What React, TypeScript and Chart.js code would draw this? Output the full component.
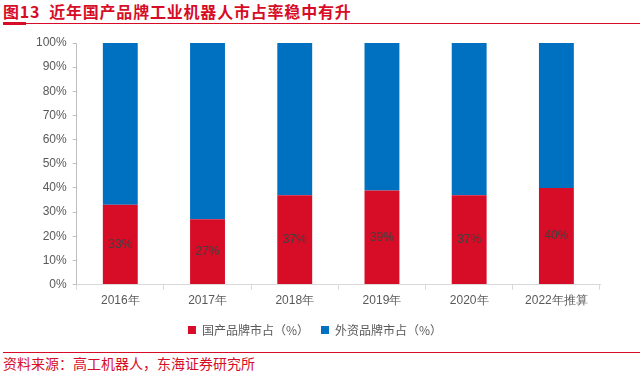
import React, { useEffect, useRef } from "react";
import { Chart, registerables } from "chart.js";
Chart.register(...registerables);

const categories = ["2016年", "2017年", "2018年", "2019年", "2020年", "2022年推算"];
const domesticShare = [33, 27, 37, 39, 37, 40];
const foreignShare = [67, 73, 63, 61, 63, 60];
const yTicks = [0, 10, 20, 30, 40, 50, 60, 70, 80, 90, 100];
const seriesNames = ["国产品牌市占（%）", "外资品牌市占（%）"];

const RED = "#D70C26";
const BLUE = "#0070C0";
const NARROW = "'Liberation Sans Narrow', 'Arial Narrow', 'Liberation Sans', sans-serif";

const labelPlugin = {
  id: "barLabels",
  afterDatasetsDraw(chart: any) {
    const ctx = chart.ctx;
    const meta = chart.getDatasetMeta(0);
    ctx.save();
    ctx.font = `12px ${NARROW}`;
    ctx.fillStyle = "#404040";
    ctx.textAlign = "center";
    ctx.textBaseline = "middle";
    meta.data.forEach((bar: any, i: number) => {
      const y = (bar.y + bar.base) / 2;
      ctx.fillText(domesticShare[i] + "%", bar.x, y);
    });
    ctx.restore();
  },
};

export default function App() {
  const ref = useRef<HTMLCanvasElement>(null);
  useEffect(() => {
    const chart = new Chart(ref.current!, {
      type: "bar",
      data: {
        labels: categories,
        datasets: [
          {
            label: seriesNames[0],
            data: domesticShare,
            backgroundColor: RED,
            borderWidth: 0,
            barPercentage: 0.4,
            categoryPercentage: 1,
          },
          {
            label: seriesNames[1],
            data: foreignShare,
            backgroundColor: BLUE,
            borderWidth: 0,
            barPercentage: 0.4,
            categoryPercentage: 1,
          },
        ],
      },
      options: {
        animation: false,
        responsive: false,
        maintainAspectRatio: false,
        layout: { padding: { left: 30, right: 44, top: 43, bottom: 4 } },
        plugins: {
          tooltip: { enabled: false },
          legend: {
            position: "bottom",
            labels: {
              boxWidth: 8,
              boxHeight: 8,
              padding: 12,
              color: "#595959",
              font: { size: 12, family: "'Noto Sans CJK SC', sans-serif" },
            },
          },
        },
        scales: {
          x: {
            stacked: true,
            grid: {
              display: true,
              offset: true,
              drawOnChartArea: false,
              drawTicks: true,
              tickLength: 5,
              color: "#D9D9D9",
            },
            border: { color: "#D9D9D9" },
            ticks: {
              color: "#595959",
              font: { size: 12, family: NARROW },
              padding: 4,
            },
          },
          y: {
            stacked: true,
            min: 0,
            max: 100,
            afterBuildTicks(axis: any) {
              axis.ticks = yTicks.map((v) => ({ value: v }));
            },
            grid: {
              display: true,
              drawOnChartArea: false,
              drawTicks: true,
              tickLength: 4,
              color: "#BFBFBF",
            },
            border: { color: "#BFBFBF" },
            ticks: {
              color: "#595959",
              font: { size: 12, family: NARROW },
              padding: 6,
              callback: (v: any) => v + "%",
            },
          },
        },
      },
      plugins: [labelPlugin],
    });
    return () => chart.destroy();
  }, []);

  return (
    <div style={{ position: "fixed", left: 0, top: 0, width: 644, height: 374, background: "#fff", overflow: "hidden" }}>
      <div
        style={{
          position: "absolute",
          left: 3,
          top: 1,
          fontFamily: "'Noto Sans CJK SC', sans-serif",
          fontWeight: 700,
          fontSize: 16,
          letterSpacing: 0.8,
          color: RED,
          whiteSpace: "nowrap",
          lineHeight: "20px",
        }}
      >
        图13&nbsp;&nbsp;近年国产品牌工业机器人市占率稳中有升
      </div>
      <div style={{ position: "absolute", left: 3, top: 23, width: 637, height: 1, background: RED }} />
      <div style={{ position: "absolute", left: 3, top: 22, width: 23, height: 3, background: RED }} />
      <canvas ref={ref} width={644} height={350} style={{ position: "absolute", left: 0, top: 0 }} />
      <div style={{ position: "absolute", left: 3, top: 352, width: 637, height: 1, background: RED }} />
      <div
        style={{
          position: "absolute",
          left: 3,
          top: 354,
          fontFamily: "'Noto Sans CJK SC', sans-serif",
          fontSize: 14,
          color: RED,
          whiteSpace: "nowrap",
          lineHeight: "18px",
        }}
      >
        资料来源：高工机器人，东海证券研究所
      </div>
    </div>
  );
}
